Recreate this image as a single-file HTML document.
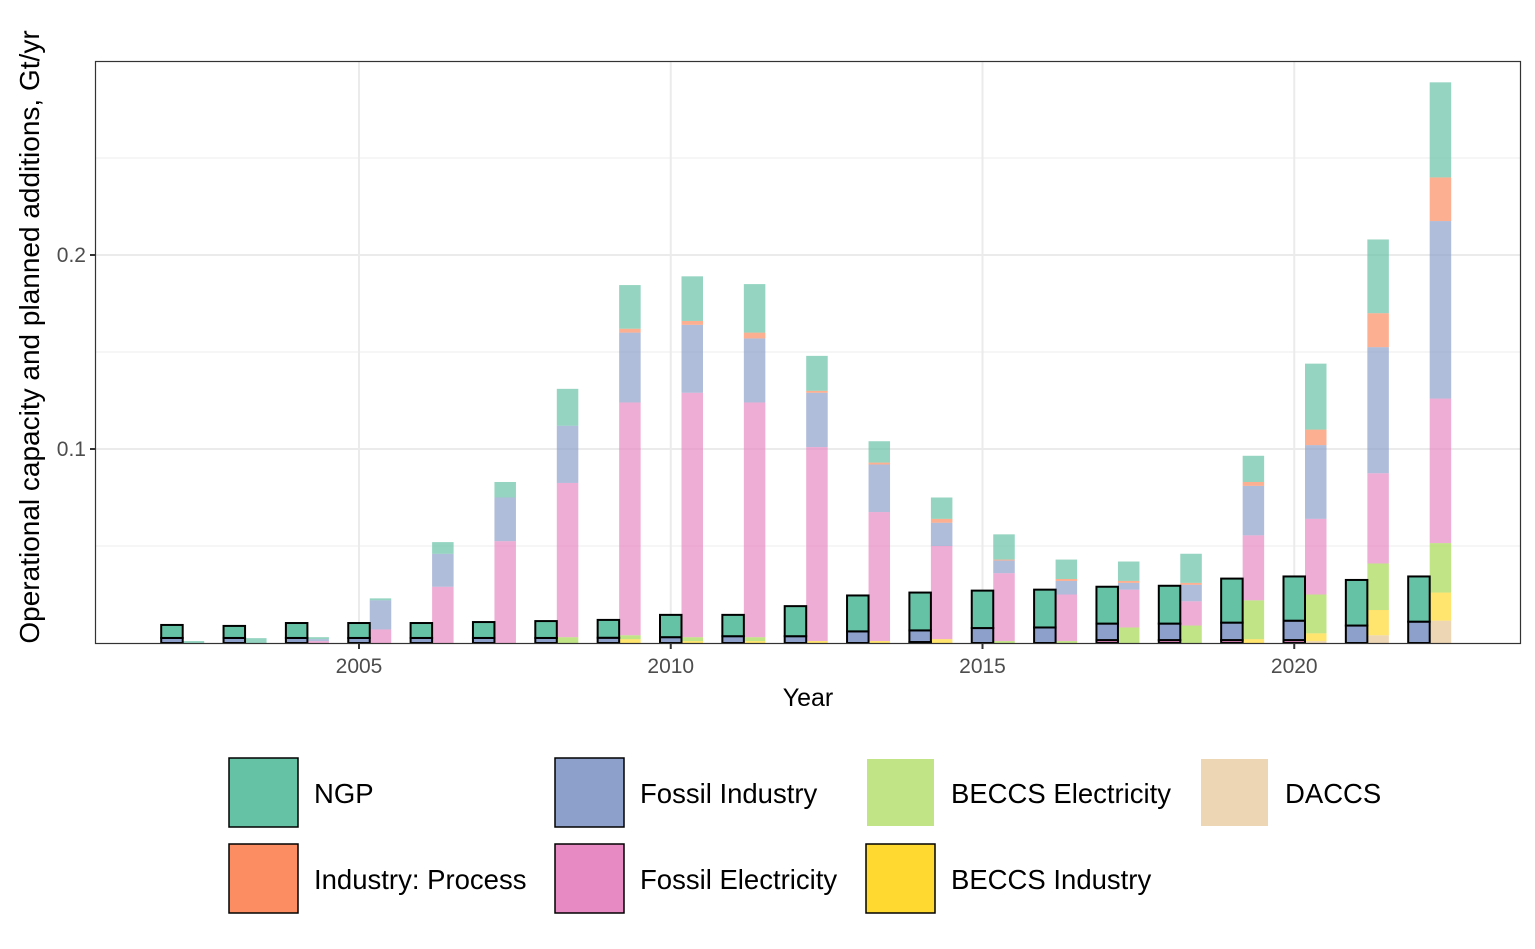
<!DOCTYPE html>
<html><head><meta charset="utf-8"><style>
body{margin:0;background:#fff;font-family:"Liberation Sans",Arial,sans-serif;}
svg text{font-family:"Liberation Sans",Arial,sans-serif;}
</style></head><body>
<svg id="c" width="1535" height="944" xmlns="http://www.w3.org/2000/svg">
<rect x="0" y="0" width="1535" height="944" fill="#fff"/>
<g id="grid"></g>
<g id="bars"></g>
<rect x="95.5" y="61.5" width="1425" height="582" fill="none" stroke="#333" stroke-width="1.2"/>
<g id="axes"></g>
<text x="808" y="706" font-size="25" text-anchor="middle" fill="#000">Year</text>
<text transform="translate(39,337) rotate(-90)" font-size="28" text-anchor="middle" fill="#000">Operational capacity and planned additions, Gt/yr</text>
<g id="legend"></g>
</svg>
<script>
const years=[2002,2003,2004,2005,2006,2007,2008,2009,2010,2011,2012,2013,2014,2015,2016,2017,2018,2019,2020,2021,2022];
// operational (stack: fossil elec, fossil industry, NGP)
const opFossilElec=[0,0,0,0,0,0,0,0,0,0,0,0,0.0005,0,0,0.0015,0.0015,0.0015,0.0015,0,0];
const opFossilInd=[0.0026,0.0026,0.0026,0.0026,0.0026,0.0026,0.0026,0.0027,0.003,0.0035,0.0035,0.006,0.006,0.0077,0.008,0.0085,0.0085,0.009,0.010,0.009,0.011];
const opNGP=[0.0067,0.0062,0.0077,0.0077,0.0077,0.0082,0.0087,0.0092,0.0115,0.011,0.0155,0.0185,0.0195,0.0193,0.0195,0.019,0.0195,0.0227,0.0228,0.0235,0.0233];
// planned (stack: DACCS, BECCS ind, BECCS elec, fossil elec, fossil industry, industry process, NGP)
const plDACCS=[0,0,0,0,0,0,0,0,0,0,0,0,0,0,0,0,0,0,0.001,0.004,0.0115];
const plBECCSInd=[0,0,0,0,0,0,0,0.002,0.001,0.001,0.001,0.001,0.002,0,0,0,0,0.002,0.004,0.013,0.0145];
const plBECCSElec=[0,0,0,0,0,0,0.003,0.002,0.002,0.002,0,0,0,0.001,0.001,0.008,0.009,0.020,0.020,0.024,0.0255];
const plFossilElec=[0,0,0.001,0.007,0.029,0.0525,0.0795,0.120,0.126,0.121,0.100,0.0665,0.048,0.035,0.024,0.0195,0.0125,0.0335,0.039,0.0465,0.0745];
const plFossilInd=[0,0,0.001,0.015,0.017,0.0225,0.0295,0.036,0.035,0.033,0.028,0.0245,0.012,0.0065,0.007,0.0035,0.0085,0.0255,0.038,0.065,0.0915];
const plIndProc=[0,0,0,0,0,0,0,0.002,0.002,0.003,0.001,0.001,0.002,0.0005,0.001,0.001,0.001,0.002,0.008,0.0175,0.0225];
const plNGP=[0.001,0.0025,0.001,0.001,0.006,0.008,0.019,0.0225,0.023,0.025,0.018,0.011,0.011,0.013,0.010,0.010,0.015,0.0135,0.034,0.038,0.049];
const yTicks=[0.1,0.2];
const yMinor=[0.05,0.15,0.25];
const xTicks=[2005,2010,2015,2020];

const NS="http://www.w3.org/2000/svg";
const X=y=>359+(y-2005)*62.35;
const Y=v=>643-v*1940;
function mk(tag,attrs,parent){const e=document.createElementNS(NS,tag);for(const k in attrs)e.setAttribute(k,attrs[k]);parent.appendChild(e);return e;}
const grid=document.getElementById('grid'),bars=document.getElementById('bars'),axes=document.getElementById('axes'),leg=document.getElementById('legend');
yMinor.forEach(v=>{const l=mk('line',{x1:96,x2:1520,y1:Y(v),y2:Y(v),stroke:'#f0f0f0','stroke-width':1.2},grid);

});
yTicks.forEach(v=>{const l=mk('line',{x1:96,x2:1520,y1:Y(v),y2:Y(v),stroke:'#ebebeb','stroke-width':2},grid);


const t=mk('line',{x1:90,x2:95,y1:Y(v),y2:Y(v),stroke:'#333','stroke-width':2},axes);


const tx=mk('text',{x:86,y:Y(v)+7,'font-size':21,'text-anchor':'end',fill:'#4d4d4d'},axes);tx.textContent=String(v);

});
xTicks.forEach(v=>{const l=mk('line',{x1:X(v),x2:X(v),y1:62,y2:643,stroke:'#ebebeb','stroke-width':2},grid);


const t=mk('line',{x1:X(v),x2:X(v),y1:644,y2:649,stroke:'#333','stroke-width':2},axes);


const tx=mk('text',{x:X(v),y:673,'font-size':21,'text-anchor':'middle',fill:'#4d4d4d'},axes);tx.textContent=String(v);

});
const C={ngp:'#66c2a5',ip:'#fc8d62',fi:'#8da0cb',fe:'#e78ac3',be:'#a6d854',bi:'#ffd92f',da:'#e5c494'};
const bw=21.5;
years.forEach((yr,i)=>{
  let base=0;
  [[plDACCS,'da'],[plBECCSInd,'bi'],[plBECCSElec,'be'],[plFossilElec,'fe'],[plFossilInd,'fi'],[plIndProc,'ip'],[plNGP,'ngp']].forEach(([arr,k])=>{
    const v=arr[i];if(v<=0)return;
    const r=mk('rect',{x:X(yr)+bw/2,y:Y(base+v),width:bw,height:Y(base)-Y(base+v),fill:C[k],'fill-opacity':0.7},bars);
    
    
    base+=v;});
  base=0;
  [[opFossilElec,'fe'],[opFossilInd,'fi'],[opNGP,'ngp']].forEach(([arr,k])=>{
    const v=arr[i];if(v<=0)return;
    const r=mk('rect',{x:X(yr)-bw/2,y:Y(base+v),width:bw,height:Y(base)-Y(base+v),fill:C[k],stroke:'#000','stroke-width':2},bars);
    
    
    base+=v;});
});
const items=[['NGP','ngp',229,758,true],['Fossil Industry','fi',555,758,true],['BECCS Electricity','be',866,758,false],['DACCS','da',1200,758,false],
['Industry: Process','ip',229,844,true],['Fossil Electricity','fe',555,844,true],['BECCS Industry','bi',866,844,true]];
items.forEach(([lab,k,x,y,b])=>{
  const g=mk('g',{},leg);
  
  
  const attrs=b?{x:x,y:y,width:69,height:69,fill:C[k],stroke:'#000','stroke-width':1.5}:{x:x+1,y:y+1,width:67,height:67,fill:C[k],'fill-opacity':0.7};
  const r=mk('rect',attrs,g);
  
  
  const t=mk('text',{x:x+85,y:y+45,'font-size':27.5,fill:'#000'},g);t.textContent=lab;
  
  
});
</script>
</body></html>
